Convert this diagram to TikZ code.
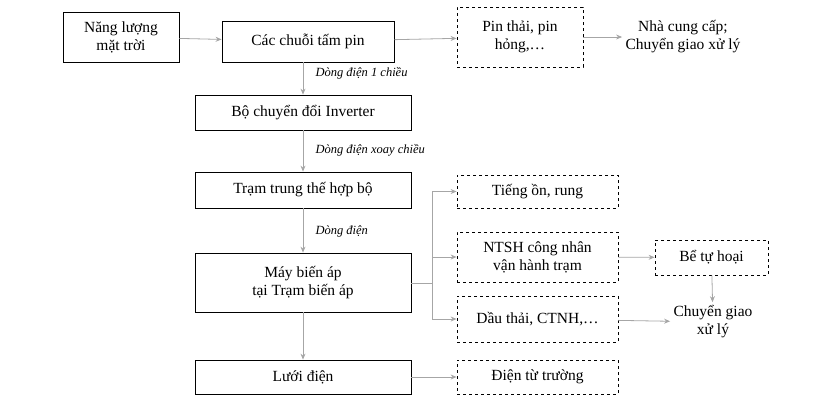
\documentclass[tikz,border=0pt]{standalone}
\usepackage{fontspec}
\setmainfont{Liberation Serif}
\usetikzlibrary{arrows.meta}
\begin{document}
\begin{tikzpicture}[x=1pt,y=-1pt,
  box/.style={draw, thick, align=center, font=\fontsize{15.5}{18}\selectfont, inner sep=0},
  dbox/.style={box, dashed},
  txt/.style={align=center, font=\fontsize{15.5}{18}\selectfont},
  lbl/.style={anchor=west, font=\itshape\fontsize{12.5}{14}\selectfont},
  arr/.style={draw=gray!70, thick, -{Stealth[length=6pt,width=5pt]}},
  ln/.style={draw=gray!70, thick}]
\useasboundingbox (0,0) rectangle (831,407);
\node[box, minimum width=116, minimum height=50] (sun) at (121,37) {Năng lượng\\mặt trời};
\node[box, minimum width=172, minimum height=41] (pin) at (308,41.5) {Các chuỗi tấm pin};
\node[dbox, minimum width=126, minimum height=60] (waste) at (520,37) {Pin thải, pin\\hỏng,…};
\node[txt] (supp) at (683,37) {Nhà cung cấp;\\Chuyển giao xử lý};
\node[box, minimum width=216, minimum height=35] (inv) at (303,112.5) {Bộ chuyển đổi Inverter};
\node[box, minimum width=216, minimum height=36] (tram) at (303,190) {Trạm trung thế hợp bộ};
\node[box, minimum width=216, minimum height=59] (mba) at (303,282.5) {Máy biến áp\\tại Trạm biến áp};
\node[box, minimum width=216, minimum height=34] (luoi) at (303,377) {Lưới điện};
\node[dbox, minimum width=161, minimum height=33] (on) at (537.5,191.5) {Tiếng ồn, rung};
\node[dbox, minimum width=161, minimum height=50] (ntsh) at (537.5,257) {NTSH công nhân\\vận hành trạm};
\node[dbox, minimum width=161, minimum height=46] (dau) at (537.5,319) {Dầu thải, CTNH,…};
\node[dbox, minimum width=113, minimum height=35] (be) at (711.5,257.5) {Bể tự hoại};
\node[txt] (cg) at (713,322) {Chuyển giao\\xử lý};
\node[dbox, minimum width=161, minimum height=34] (dien) at (537.5,377) {Điện từ trường};
\draw[arr] (sun) -- (pin);
\draw[arr] (pin) -- (waste);
\draw[arr] (waste) -- (supp);
\draw[arr] (pin.south -| inv.north) -- (inv.north);
\draw[arr] (inv) -- (tram);
\draw[arr] (tram) -- (mba);
\draw[arr] (mba) -- (luoi);
\node[lbl] at (312,73) {Dòng điện 1 chiều};
\node[lbl] at (312,150) {Dòng điện xoay chiều};
\node[lbl] at (312,231) {Dòng điện};
\coordinate (j) at (432,283);
\draw[ln] (mba.east |- j) -- (j);
\draw[ln] (432,191.5) -- (432,319);
\draw[arr] (432,191.5) -- (on.west);
\draw[arr] (432,257) -- (ntsh.west);
\draw[arr] (432,319) -- (dau.west);
\draw[arr] (ntsh) -- (be);
\draw[arr] (be) -- (cg);
\draw[arr] (dau) -- (cg);
\draw[arr] (luoi) -- (dien);
\end{tikzpicture}
\end{document}
